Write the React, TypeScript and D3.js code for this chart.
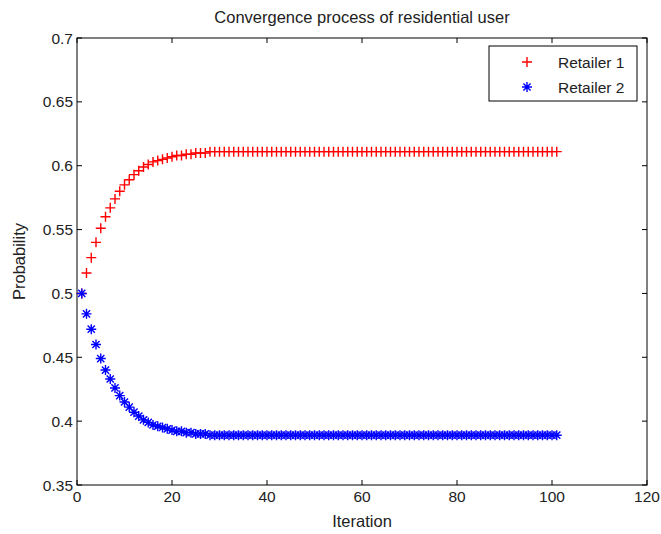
import * as d3 from 'd3';

// iteration index 1..101
const iterations: number[] = d3.range(1, 102);

const retailer1: number[] = [
  0.500, 0.516, 0.528, 0.540, 0.551, 0.560, 0.567, 0.574, 0.580, 0.585,
  0.589, 0.593, 0.596, 0.599, 0.601, 0.603, 0.604, 0.605, 0.606, 0.607,
  0.608, 0.608, 0.609, 0.609, 0.610, 0.610, 0.610, 0.611, 0.611, 0.611,
  0.611, 0.611, 0.611, 0.611, 0.611, 0.611, 0.611, 0.611, 0.611, 0.611,
  0.611, 0.611, 0.611, 0.611, 0.611, 0.611, 0.611, 0.611, 0.611, 0.611,
  0.611, 0.611, 0.611, 0.611, 0.611, 0.611, 0.611, 0.611, 0.611, 0.611,
  0.611, 0.611, 0.611, 0.611, 0.611, 0.611, 0.611, 0.611, 0.611, 0.611,
  0.611, 0.611, 0.611, 0.611, 0.611, 0.611, 0.611, 0.611, 0.611, 0.611,
  0.611, 0.611, 0.611, 0.611, 0.611, 0.611, 0.611, 0.611, 0.611, 0.611,
  0.611, 0.611, 0.611, 0.611, 0.611, 0.611, 0.611, 0.611, 0.611, 0.611,
  0.611,
];

const retailer2: number[] = [
  0.500, 0.484, 0.472, 0.460, 0.449, 0.440, 0.433, 0.426, 0.420, 0.415,
  0.411, 0.407, 0.404, 0.401, 0.399, 0.397, 0.396, 0.395, 0.394, 0.393,
  0.392, 0.392, 0.391, 0.391, 0.390, 0.390, 0.390, 0.389, 0.389, 0.389,
  0.389, 0.389, 0.389, 0.389, 0.389, 0.389, 0.389, 0.389, 0.389, 0.389,
  0.389, 0.389, 0.389, 0.389, 0.389, 0.389, 0.389, 0.389, 0.389, 0.389,
  0.389, 0.389, 0.389, 0.389, 0.389, 0.389, 0.389, 0.389, 0.389, 0.389,
  0.389, 0.389, 0.389, 0.389, 0.389, 0.389, 0.389, 0.389, 0.389, 0.389,
  0.389, 0.389, 0.389, 0.389, 0.389, 0.389, 0.389, 0.389, 0.389, 0.389,
  0.389, 0.389, 0.389, 0.389, 0.389, 0.389, 0.389, 0.389, 0.389, 0.389,
  0.389, 0.389, 0.389, 0.389, 0.389, 0.389, 0.389, 0.389, 0.389, 0.389,
  0.389,
];

const xTicks: number[] = [0, 20, 40, 60, 80, 100, 120];
const yTicks: number[] = [0.35, 0.4, 0.45, 0.5, 0.55, 0.6, 0.65, 0.7];
const legendLabels: string[] = ['Retailer 1', 'Retailer 2'];

const W = 661;
const H = 534;
const margin = { top: 38, right: 14, bottom: 49, left: 77 };
const font = '"Liberation Sans", Arial, sans-serif';

const Plus = ({ x, y, r, color }: { x: number; y: number; r: number; color: string }) => (
  <path d={`M${x - r},${y}H${x + r}M${x},${y - r}V${y + r}`} stroke={color} strokeWidth={1.4} fill="none" />
);

const Star = ({ x, y, r, color }: { x: number; y: number; r: number; color: string }) => {
  const d = r * 0.72;
  return (
    <path
      d={`M${x - r},${y}H${x + r}M${x},${y - r}V${y + r}M${x - d},${y - d}L${x + d},${y + d}M${x - d},${y + d}L${x + d},${y - d}`}
      stroke={color}
      strokeWidth={1.4}
      fill="none"
    />
  );
};

export default function App() {
  const x = d3.scaleLinear().domain([0, 120]).range([margin.left, W - margin.right]);
  const y = d3.scaleLinear().domain([0.35, 0.7]).range([H - margin.bottom, margin.top]);
  const [x0, x1] = x.range();
  const [y0, y1] = y.range();
  const tl = 5;

  return (
    <svg width={W} height={H} style={{ position: 'absolute', left: 0, top: 0, background: '#fff' }}>
      <rect width={W} height={H} fill="#fff" />
      {/* ticks on all four sides, pointing inward */}
      {xTicks.map(t => (
        <g key={'xt' + t}>
          <line x1={x(t)} x2={x(t)} y1={y0} y2={y0 - tl} stroke="#000" />
          <line x1={x(t)} x2={x(t)} y1={y1} y2={y1 + tl} stroke="#000" />
          <text x={x(t)} y={y0 + 17} textAnchor="middle" fontFamily={font} fontSize={15.5} fill="#222">
            {t}
          </text>
        </g>
      ))}
      {yTicks.map(t => (
        <g key={'yt' + t}>
          <line x1={x0} x2={x0 + tl} y1={y(t)} y2={y(t)} stroke="#000" />
          <line x1={x1} x2={x1 - tl} y1={y(t)} y2={y(t)} stroke="#000" />
          <text x={x0 - 4} y={y(t) + 5.5} textAnchor="end" fontFamily={font} fontSize={15.5} fill="#222">
            {d3.format('')(+t.toFixed(2))}
          </text>
        </g>
      ))}
      <rect x={x0} y={y1} width={x1 - x0} height={y0 - y1} fill="none" stroke="#000" />

      {retailer1.map((v, i) => (
        <Plus key={'r' + i} x={x(iterations[i])} y={y(v)} r={5} color="#ff0000" />
      ))}
      {retailer2.map((v, i) => (
        <Star key={'b' + i} x={x(iterations[i])} y={y(v)} r={5} color="#0000ff" />
      ))}

      <text x={(x0 + x1) / 2} y={23} textAnchor="middle" fontFamily={font} fontSize={16.5} fill="#222">
        Convergence process of residential user
      </text>
      <text x={(x0 + x1) / 2} y={527} textAnchor="middle" fontFamily={font} fontSize={16.5} fill="#222">
        Iteration
      </text>
      <text
        transform={`translate(25,${(y0 + y1) / 2}) rotate(-90)`}
        textAnchor="middle"
        fontFamily={font}
        fontSize={16.5}
        fill="#222"
      >
        Probability
      </text>

      {/* legend */}
      <rect x={489} y={46} width={148} height={55} fill="#fff" stroke="#000" />
      {legendLabels.map((lab, i) => (
        <g key={lab}>
          {i === 0 ? (
            <Plus x={527} y={62 + i * 25} r={5} color="#ff0000" />
          ) : (
            <Star x={527} y={62 + i * 25} r={5} color="#0000ff" />
          )}
          <text x={558} y={67.5 + i * 25} fontFamily={font} fontSize={15.5} fill="#222">
            {lab}
          </text>
        </g>
      ))}
    </svg>
  );
}
